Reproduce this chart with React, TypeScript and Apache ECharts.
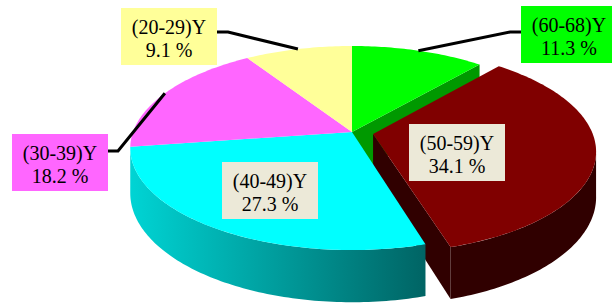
import React, { useEffect, useRef } from "react";
import * as echarts from "echarts";

// ---- data ----
const categories = ["(60-68)Y", "(50-59)Y", "(40-49)Y", "(30-39)Y", "(20-29)Y"];
const percents = [11.3, 34.1, 27.3, 18.2, 9.1];
const explodeAmount = [0, 0.098, 0, 0, 0];

// ---- styles ----
const topColors = ["#00ff00", "#800000", "#00ffff", "#ff66ff", "#ffff99"];
const sideColors: any[] = [
  "#009900",
  "#300000",
  new echarts.graphic.LinearGradient(0, 0, 1, 0, [
    { offset: 0, color: "#00d4d4" },
    { offset: 1, color: "#006464" },
  ]),
  "#b040b0",
  "#b0b060",
];
const labelBg = ["#00ff00", "#ece9d8", "#ece9d8", "#ff66ff", "#ffff99"];
// label box top-left, and leader polyline (box side point, elbow) - layout only
const labelBox = [
  [521, 6],
  [409, 124],
  [222, 162],
  [12, 134],
  [121, 8],
];
const leader: (null | { side: number[]; elbow: number[]; angle?: number })[] = [
  { side: [521, 32], elbow: [510, 32] },
  null,
  null,
  { side: [107, 151], elbow: [118, 151] },
  { side: [217, 32], elbow: [228, 32], angle: 343.5 },
];

// ---- projection (perspective pie) ----
const CX = 352;
const CY = 132;
const R = 219;
const K = 99.5;
const P = 0.157;
const DEPTH = 44;
const SIL1 = (Math.acos(-P) * 180) / Math.PI; // ~99deg
const SIL2 = 360 - SIL1; // ~261deg
const BOX_W = 96;
const BOX_H = 57;

function proj(u: number, v: number, depth = 0): number[] {
  const s = 1 / (1 + P * v);
  return [CX + R * u * s, CY - K * v * s + depth * s];
}
const rad = (d: number) => (d * Math.PI) / 180;

const total = percents.reduce((a, b) => a + b, 0);
const starts: number[] = [];
{
  let acc = 0;
  percents.forEach((p) => {
    starts.push((acc / total) * 360);
    acc += p;
  });
}

function sliceGeom(i: number) {
  const a1 = starts[i];
  const a2 = a1 + (percents[i] / total) * 360;
  const mid = (a1 + a2) / 2;
  const e = explodeAmount[i];
  const ou = e * Math.sin(rad(mid));
  const ov = e * Math.cos(rad(mid));
  const rim = (t: number, d = 0) => proj(ou + Math.sin(rad(t)), ov + Math.cos(rad(t)), d);
  const center = (d = 0) => proj(ou, ov, d);
  return { a1, a2, mid, e, rim, center };
}

function arcPts(rim: (t: number, d?: number) => number[], from: number, to: number, d = 0) {
  const pts: number[][] = [];
  const n = Math.max(2, Math.ceil((to - from) / 1));
  for (let k = 0; k <= n; k++) pts.push(rim(from + ((to - from) * k) / n, d));
  return pts;
}

function renderItem(params: any) {
  const i = params.dataIndex;
  const g = sliceGeom(i);
  const n = percents.length;
  const isExp = g.e > 0;
  const prevExp = explodeAmount[(i - 1 + n) % n] > 0;
  const nextExp = explodeAmount[(i + 1) % n] > 0;
  const children: any[] = [];

  // radial walls
  const wall = (t: number) => [g.center(0), g.rim(t, 0), g.rim(t, DEPTH), g.center(DEPTH)];
  if ((isExp || prevExp) && Math.cos(rad(g.a1 - 90)) < 0) {
    children.push({ type: "polygon", shape: { points: wall(g.a1) }, style: { fill: sideColors[i] }, z2: isExp ? 3 : 1 });
  }
  if ((isExp || nextExp) && Math.cos(rad(g.a2 + 90)) < 0) {
    children.push({ type: "polygon", shape: { points: wall(g.a2) }, style: { fill: sideColors[i] }, z2: isExp ? 3 : 1 });
  }
  // outer wall (visible part)
  const w1 = Math.max(g.a1, SIL1);
  const w2 = Math.min(g.a2, SIL2);
  if (w2 > w1) {
    const top = arcPts(g.rim, w1, w2, 0);
    const bot = arcPts(g.rim, w1, w2, DEPTH).reverse();
    children.push({ type: "polygon", shape: { points: top.concat(bot) }, style: { fill: sideColors[i] }, z2: isExp ? 2 : 5 });
  }
  // top face
  const topPts = [g.center(0)].concat(arcPts(g.rim, g.a1, g.a2, 0));
  children.push({ type: "polygon", shape: { points: topPts }, style: { fill: topColors[i] }, z2: isExp ? 4 : 6 });

  // label
  const [bx, by] = labelBox[i];
  const ld = leader[i];
  if (ld) {
    const anchor = g.rim(ld.angle !== undefined ? ld.angle : g.mid, 0);
    children.push({
      type: "polyline",
      shape: { points: [ld.side, ld.elbow, anchor] },
      style: { stroke: "#000", lineWidth: 3, fill: null },
      z2: 7,
    });
  }
  children.push({
    type: "rect",
    shape: { x: bx, y: by, width: BOX_W, height: BOX_H },
    style: { fill: labelBg[i] },
    z2: 8,
  });
  children.push({
    type: "text",
    x: bx + BOX_W / 2,
    y: by + 30.5,
    style: {
      text: categories[i] + "\n" + percents[i].toFixed(1) + " %",
      fill: "#000",
      font: '20px "Liberation Serif"',
      align: "center",
      verticalAlign: "middle",
      lineHeight: 23,
    },
    z2: 9,
  });
  return { type: "group", children };
}

export default function App() {
  const ref = useRef<HTMLDivElement>(null);
  useEffect(() => {
    if (!ref.current) return;
    const chart = echarts.init(ref.current, undefined, { renderer: "svg" });
    chart.setOption({
      animation: false,
      backgroundColor: "#ffffff",
      series: [
        {
          type: "custom",
          coordinateSystem: "none",
          silent: true,
          renderItem,
          data: categories.map((c, i) => ({ name: c, value: percents[i] })),
        },
      ],
    });
    return () => chart.dispose();
  }, []);
  return (
    <div
      ref={ref}
      style={{ position: "fixed", left: 0, top: 0, width: 612, height: 306 }}
    />
  );
}
